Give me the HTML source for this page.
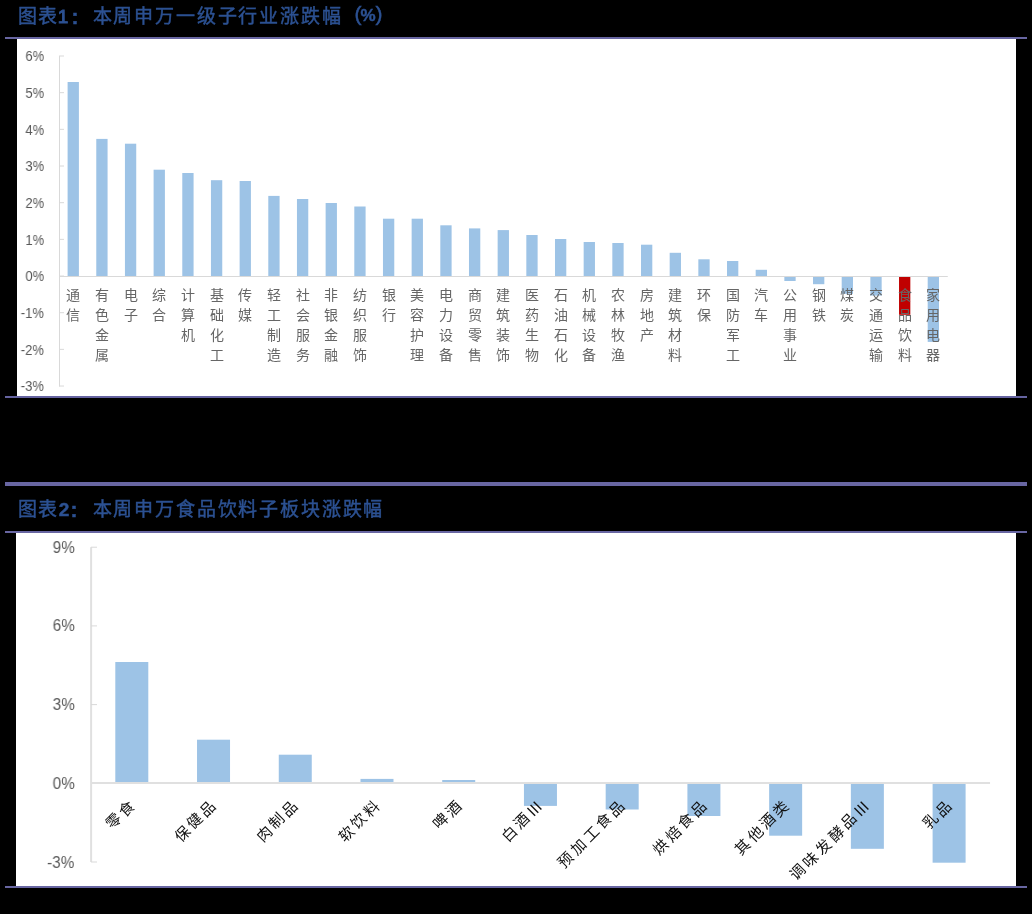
<!DOCTYPE html>
<html lang="zh-CN"><head><meta charset="utf-8"><title>chart</title>
<style>
html,body{margin:0;padding:0;background:#000;}
body{width:1032px;height:914px;position:relative;overflow:hidden;font-family:"Liberation Sans",sans-serif;}
.ab{position:absolute;}
.tc{will-change:transform;position:absolute;width:30px;text-align:center;font-size:19px;line-height:24px;color:#2C5192;-webkit-text-stroke:0.45px #2C5192;white-space:nowrap;}
.title{will-change:transform;position:absolute;font-size:20px;color:#2C5192;letter-spacing:0.9px;white-space:nowrap;line-height:24px;}
.ln{position:absolute;left:5px;width:1022px;background:#6866A2;}
.panel{position:absolute;background:#fff;}
svg{position:absolute;left:0;top:0;}
.yl1{will-change:transform;position:absolute;right:987.7px;font-size:14px;line-height:16px;color:#595959;white-space:nowrap;transform:scaleX(0.93);transform-origin:100% 50%;}
.yl2{will-change:transform;position:absolute;right:957.5px;font-size:16.5px;line-height:19px;color:#595959;white-space:nowrap;transform:scaleX(0.93);transform-origin:100% 50%;}
.cl1{will-change:transform;position:absolute;top:286px;width:20px;text-align:center;font-size:14px;line-height:19.85px;color:#666;}
.cl2w{position:absolute;top:800.5px;width:0;height:0;}
.cl2{position:absolute;right:0;top:0;white-space:nowrap;font-size:15px;line-height:15px;letter-spacing:3px;color:#111;transform-origin:calc(100% - 10.5px) 7.5px;transform:rotate(-45deg);}
</style></head><body>
<span class="tc" style="left:12.2px;top:5px;">图</span>
<span class="tc" style="left:32.0px;top:5px;">表</span>
<span class="tc" style="left:48.4px;top:5px;-webkit-text-stroke:0.9px #2C5192;">1</span>
<span class="tc" style="left:59.5px;top:5px;font-size:21px;font-weight:bold;">:</span>
<span class="tc" style="left:86.6px;top:5px;">本</span>
<span class="tc" style="left:107.4px;top:5px;">周</span>
<span class="tc" style="left:128.3px;top:5px;">申</span>
<span class="tc" style="left:149.1px;top:5px;">万</span>
<span class="tc" style="left:169.9px;top:5px;">一</span>
<span class="tc" style="left:190.8px;top:5px;">级</span>
<span class="tc" style="left:211.6px;top:5px;">子</span>
<span class="tc" style="left:232.4px;top:5px;">行</span>
<span class="tc" style="left:253.2px;top:5px;">业</span>
<span class="tc" style="left:274.1px;top:5px;">涨</span>
<span class="tc" style="left:294.9px;top:5px;">跌</span>
<span class="tc" style="left:315.7px;top:5px;">幅</span>
<span class="tc" style="left:342.8px;top:5px;font-size:21px;margin-top:-3px;">(</span>
<span class="tc" style="left:353.3px;top:5px;font-weight:bold;font-size:17px;margin-top:-1px;">%</span>
<span class="tc" style="left:364.2px;top:5px;font-size:21px;margin-top:-3px;">)</span>
<div class="ln" style="top:37px;height:2px"></div>
<div class="panel" style="left:17px;top:39px;width:999px;height:357px"></div>
<div class="ln" style="top:396px;height:2px;background:#6563A0"></div>
<div class="ln" style="top:482px;height:4px"></div>
<span class="tc" style="left:12.2px;top:498px;">图</span>
<span class="tc" style="left:32.0px;top:498px;">表</span>
<span class="tc" style="left:49.1px;top:498px;font-weight:bold;">2</span>
<span class="tc" style="left:59.0px;top:498px;font-size:21px;font-weight:bold;">:</span>
<span class="tc" style="left:86.6px;top:498px;">本</span>
<span class="tc" style="left:107.4px;top:498px;">周</span>
<span class="tc" style="left:128.3px;top:498px;">申</span>
<span class="tc" style="left:149.1px;top:498px;">万</span>
<span class="tc" style="left:169.9px;top:498px;">食</span>
<span class="tc" style="left:190.8px;top:498px;">品</span>
<span class="tc" style="left:211.6px;top:498px;">饮</span>
<span class="tc" style="left:232.4px;top:498px;">料</span>
<span class="tc" style="left:253.2px;top:498px;">子</span>
<span class="tc" style="left:274.1px;top:498px;">板</span>
<span class="tc" style="left:294.9px;top:498px;">块</span>
<span class="tc" style="left:315.7px;top:498px;">涨</span>
<span class="tc" style="left:336.6px;top:498px;">跌</span>
<span class="tc" style="left:357.4px;top:498px;">幅</span>
<div class="ln" style="top:531px;height:2px"></div>
<div class="panel" style="left:16px;top:533px;width:1000px;height:353px"></div>
<div class="ln" style="top:886px;height:2px"></div>
<svg width="1032" height="914" viewBox="0 0 1032 914">
<rect x="59" y="56" width="1" height="330.53" fill="#D9D9D9"/>
<rect x="59" y="55.50" width="5" height="1" fill="#D9D9D9"/>
<rect x="59" y="92.17" width="5" height="1" fill="#D9D9D9"/>
<rect x="59" y="128.84" width="5" height="1" fill="#D9D9D9"/>
<rect x="59" y="165.51" width="5" height="1" fill="#D9D9D9"/>
<rect x="59" y="202.18" width="5" height="1" fill="#D9D9D9"/>
<rect x="59" y="238.85" width="5" height="1" fill="#D9D9D9"/>
<rect x="59" y="275.52" width="5" height="1" fill="#D9D9D9"/>
<rect x="59" y="312.19" width="5" height="1" fill="#D9D9D9"/>
<rect x="59" y="348.86" width="5" height="1" fill="#D9D9D9"/>
<rect x="59" y="385.53" width="5" height="1" fill="#D9D9D9"/>
<rect x="67.60" y="82.00" width="11.3" height="194.00" fill="#9DC3E6"/>
<rect x="96.27" y="138.90" width="11.3" height="137.10" fill="#9DC3E6"/>
<rect x="124.94" y="143.70" width="11.3" height="132.30" fill="#9DC3E6"/>
<rect x="153.61" y="169.70" width="11.3" height="106.30" fill="#9DC3E6"/>
<rect x="182.28" y="173.00" width="11.3" height="103.00" fill="#9DC3E6"/>
<rect x="210.95" y="180.20" width="11.3" height="95.80" fill="#9DC3E6"/>
<rect x="239.62" y="181.00" width="11.3" height="95.00" fill="#9DC3E6"/>
<rect x="268.29" y="195.90" width="11.3" height="80.10" fill="#9DC3E6"/>
<rect x="296.96" y="199.00" width="11.3" height="77.00" fill="#9DC3E6"/>
<rect x="325.63" y="203.00" width="11.3" height="73.00" fill="#9DC3E6"/>
<rect x="354.30" y="206.50" width="11.3" height="69.50" fill="#9DC3E6"/>
<rect x="382.97" y="218.70" width="11.3" height="57.30" fill="#9DC3E6"/>
<rect x="411.64" y="218.70" width="11.3" height="57.30" fill="#9DC3E6"/>
<rect x="440.31" y="225.30" width="11.3" height="50.70" fill="#9DC3E6"/>
<rect x="468.98" y="228.40" width="11.3" height="47.60" fill="#9DC3E6"/>
<rect x="497.65" y="230.10" width="11.3" height="45.90" fill="#9DC3E6"/>
<rect x="526.32" y="235.00" width="11.3" height="41.00" fill="#9DC3E6"/>
<rect x="554.99" y="239.00" width="11.3" height="37.00" fill="#9DC3E6"/>
<rect x="583.66" y="242.00" width="11.3" height="34.00" fill="#9DC3E6"/>
<rect x="612.33" y="243.00" width="11.3" height="33.00" fill="#9DC3E6"/>
<rect x="641.00" y="244.70" width="11.3" height="31.30" fill="#9DC3E6"/>
<rect x="669.67" y="252.80" width="11.3" height="23.20" fill="#9DC3E6"/>
<rect x="698.34" y="259.30" width="11.3" height="16.70" fill="#9DC3E6"/>
<rect x="727.01" y="261.00" width="11.3" height="15.00" fill="#9DC3E6"/>
<rect x="755.68" y="269.80" width="11.3" height="6.20" fill="#9DC3E6"/>
<rect x="784.35" y="276.00" width="11.3" height="5.00" fill="#9DC3E6"/>
<rect x="813.02" y="276.00" width="11.3" height="8.20" fill="#9DC3E6"/>
<rect x="841.69" y="276.00" width="11.3" height="17.80" fill="#9DC3E6"/>
<rect x="870.36" y="276.00" width="11.3" height="19.60" fill="#9DC3E6"/>
<rect x="899.03" y="276.00" width="11.3" height="38.80" fill="#C00000"/>
<rect x="927.70" y="276.00" width="11.3" height="65.90" fill="#9DC3E6"/>
<rect x="59" y="276" width="888.77" height="1" fill="#D9D9D9"/>
<rect x="90.1" y="547.2" width="2" height="314.80" fill="#E0E0E0"/>
<rect x="91" y="546.70" width="6" height="1" fill="#D9D9D9"/>
<rect x="91" y="625.40" width="6" height="1" fill="#D9D9D9"/>
<rect x="91" y="704.10" width="6" height="1" fill="#D9D9D9"/>
<rect x="91" y="782.80" width="6" height="1" fill="#D9D9D9"/>
<rect x="91" y="861.50" width="6" height="1" fill="#D9D9D9"/>
<rect x="115.30" y="662.00" width="33" height="121.00" fill="#9DC3E6"/>
<rect x="197.03" y="739.70" width="33" height="43.30" fill="#9DC3E6"/>
<rect x="278.76" y="754.70" width="33" height="28.30" fill="#9DC3E6"/>
<rect x="360.49" y="778.90" width="33" height="4.10" fill="#9DC3E6"/>
<rect x="442.22" y="780.00" width="33" height="3.00" fill="#9DC3E6"/>
<rect x="523.95" y="783.00" width="33" height="22.90" fill="#9DC3E6"/>
<rect x="605.68" y="783.00" width="33" height="26.50" fill="#9DC3E6"/>
<rect x="687.41" y="783.00" width="33" height="33.00" fill="#9DC3E6"/>
<rect x="769.14" y="783.00" width="33" height="52.70" fill="#9DC3E6"/>
<rect x="850.87" y="783.00" width="33" height="65.80" fill="#9DC3E6"/>
<rect x="932.60" y="783.00" width="33" height="79.70" fill="#9DC3E6"/>
<rect x="91" y="782" width="899.03" height="2" fill="#E0E0E0"/>
</svg>
<div class="yl1" style="top:48.4px">6%</div>
<div class="yl1" style="top:85.1px">5%</div>
<div class="yl1" style="top:121.7px">4%</div>
<div class="yl1" style="top:158.4px">3%</div>
<div class="yl1" style="top:195.1px">2%</div>
<div class="yl1" style="top:231.8px">1%</div>
<div class="yl1" style="top:268.4px">0%</div>
<div class="yl1" style="top:305.1px">-1%</div>
<div class="yl1" style="top:341.8px">-2%</div>
<div class="yl1" style="top:378.4px">-3%</div>
<div class="yl2" style="top:537.7px">9%</div>
<div class="yl2" style="top:616.4px">6%</div>
<div class="yl2" style="top:695.1px">3%</div>
<div class="yl2" style="top:773.8px">0%</div>
<div class="yl2" style="top:852.5px">-3%</div>
<div class="cl1" style="left:63.3px">通<br>信</div>
<div class="cl1" style="left:92.0px">有<br>色<br>金<br>属</div>
<div class="cl1" style="left:120.7px">电<br>子</div>
<div class="cl1" style="left:149.3px">综<br>合</div>
<div class="cl1" style="left:178.0px">计<br>算<br>机</div>
<div class="cl1" style="left:206.7px">基<br>础<br>化<br>工</div>
<div class="cl1" style="left:235.4px">传<br>媒</div>
<div class="cl1" style="left:264.0px">轻<br>工<br>制<br>造</div>
<div class="cl1" style="left:292.7px">社<br>会<br>服<br>务</div>
<div class="cl1" style="left:321.4px">非<br>银<br>金<br>融</div>
<div class="cl1" style="left:350.0px">纺<br>织<br>服<br>饰</div>
<div class="cl1" style="left:378.7px">银<br>行</div>
<div class="cl1" style="left:407.4px">美<br>容<br>护<br>理</div>
<div class="cl1" style="left:436.0px">电<br>力<br>设<br>备</div>
<div class="cl1" style="left:464.7px">商<br>贸<br>零<br>售</div>
<div class="cl1" style="left:493.4px">建<br>筑<br>装<br>饰</div>
<div class="cl1" style="left:522.1px">医<br>药<br>生<br>物</div>
<div class="cl1" style="left:550.7px">石<br>油<br>石<br>化</div>
<div class="cl1" style="left:579.4px">机<br>械<br>设<br>备</div>
<div class="cl1" style="left:608.1px">农<br>林<br>牧<br>渔</div>
<div class="cl1" style="left:636.7px">房<br>地<br>产</div>
<div class="cl1" style="left:665.4px">建<br>筑<br>材<br>料</div>
<div class="cl1" style="left:694.1px">环<br>保</div>
<div class="cl1" style="left:722.7px">国<br>防<br>军<br>工</div>
<div class="cl1" style="left:751.4px">汽<br>车</div>
<div class="cl1" style="left:780.1px">公<br>用<br>事<br>业</div>
<div class="cl1" style="left:808.8px">钢<br>铁</div>
<div class="cl1" style="left:837.4px">煤<br>炭</div>
<div class="cl1" style="left:866.1px">交<br>通<br>运<br>输</div>
<div class="cl1" style="left:894.8px">食<br>品<br>饮<br>料</div>
<div class="cl1" style="left:923.4px">家<br>用<br>电<br>器</div>
<div class="cl2w" style="left:136.7px"><div class="cl2">零食</div></div>
<div class="cl2w" style="left:218.4px"><div class="cl2">保健品</div></div>
<div class="cl2w" style="left:300.1px"><div class="cl2">肉制品</div></div>
<div class="cl2w" style="left:381.9px"><div class="cl2">软饮料</div></div>
<div class="cl2w" style="left:463.6px"><div class="cl2">啤酒</div></div>
<div class="cl2w" style="left:545.3px"><div class="cl2">白酒Ⅲ</div></div>
<div class="cl2w" style="left:627.0px"><div class="cl2">预加工食品</div></div>
<div class="cl2w" style="left:708.8px"><div class="cl2">烘焙食品</div></div>
<div class="cl2w" style="left:790.5px"><div class="cl2">其他酒类</div></div>
<div class="cl2w" style="left:872.2px"><div class="cl2">调味发酵品Ⅲ</div></div>
<div class="cl2w" style="left:954.0px"><div class="cl2">乳品</div></div>
</body></html>
